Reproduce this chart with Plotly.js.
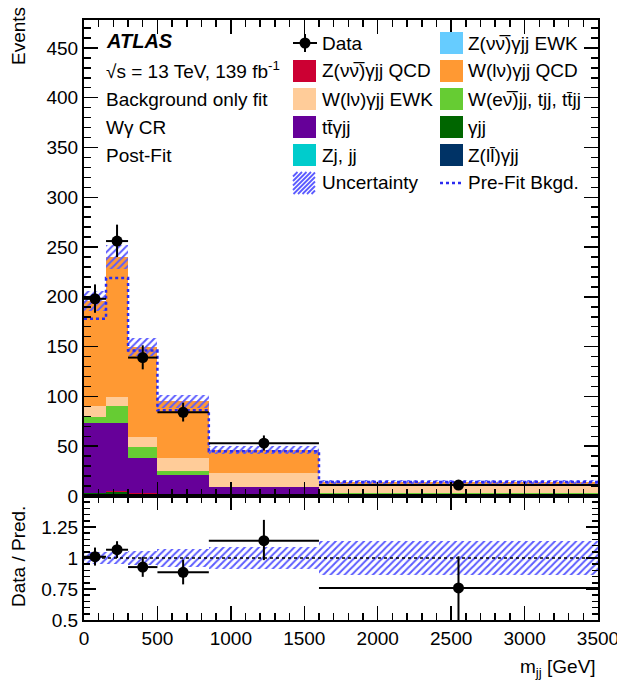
<!DOCTYPE html>
<html><head><meta charset="utf-8">
<script src="https://cdn.plot.ly/plotly-3.0.1.min.js"></script>
<style>body{margin:0;background:#fff;} #plot{width:617px;height:685px;}</style>
</head><body><div id="plot"></div>
<script>
// ---- data ----
const binEdges   = [0, 150, 300, 500, 850, 1600, 3500];
const binCenters = [75, 225, 400, 675, 1225, 2550];
const binWidths  = [150, 150, 200, 350, 750, 1900];

const zllYjj   = [1.0, 1.0, 0.8, 0.7, 0.6, 0.5];
const zjJj     = [1.5, 1.5, 1.2, 1.0, 1.0, 1.0];
const yJj      = [0.5, 2.0, 0.5, 0.3, 0.2, 0.1];
const znnQCD   = [0.3, 0.3, 0.3, 0.3, 0.2, 0.2];
const znnEWK   = [0.2, 0.2, 0.2, 0.2, 0.2, 0.2];
const ttYjj    = [69.5, 68, 35, 18.5, 6.8, 0.5];
const wenJj    = [6, 17, 11, 4, 0.5, 0.1];
const wlnEWK   = [11, 9, 10, 13, 13.5, 7.4];
const wlnQCD   = [106, 141, 91, 57, 23.5, 4.5];

const preFit   = [178, 219, 146, 86, 45, 14];
const relUnc   = [0.05, 0.05, 0.06, 0.07, 0.09, 0.14];

const dataVals    = [198, 256, 139, 84, 53, 11];
const dataErrUp   = [14.5, 16.5, 12.3, 9.7, 7.8, 3.7];
const dataErrDown = [14, 16, 11.8, 9.2, 7.3, 4.2];

const xTicks = [0, 500, 1000, 1500, 2000, 2500, 3000, 3500];

// ---- derived ----
const comps = [
  {y: zllYjj, c: '#003366', n: 'Z(ll̄)γjj'},
  {y: zjJj,   c: '#00cccc', n: 'Zj, jj'},
  {y: yJj,    c: '#006600', n: 'γjj'},
  {y: znnQCD, c: '#cc0033', n: 'Z(νν̅)γjj QCD'},
  {y: znnEWK, c: '#66ccff', n: 'Z(νν̅)γjj EWK'},
  {y: ttYjj,  c: '#660099', n: 'tt̄γjj'},
  {y: wenJj,  c: '#66cc33', n: 'W(eν̅)jj, tjj, tt̄jj'},
  {y: wlnEWK, c: '#ffcc99', n: 'W(lν)γjj EWK'},
  {y: wlnQCD, c: '#ff9933', n: 'W(lν)γjj QCD'}
];
const total = binCenters.map((_, i) => comps.reduce((s, c) => s + c.y[i], 0));
const halfW = binWidths.map(w => w / 2);
const ratio = dataVals.map((d, i) => d / total[i]);
const ratioUp = dataErrUp.map((e, i) => e / total[i]);
const ratioDown = dataErrDown.map((e, i) => e / total[i]);

const hatchCol = '#5c5cff';
const hatchPattern = {shape: '/', fgcolor: hatchCol, bgcolor: 'rgba(0,0,0,0)', size: 5, solidity: 0.4};
const traces = [];
comps.forEach(c => traces.push({
  type: 'bar', x: binCenters, y: c.y, width: binWidths,
  marker: {color: c.c, line: {width: 0}}, name: c.n, showlegend: false,
  xaxis: 'x', yaxis: 'y', hoverinfo: 'skip'
}));
// uncertainty band (upper)
traces.push({
  type: 'bar', x: binCenters, width: binWidths,
  base: total.map((t, i) => t * (1 - relUnc[i])),
  y: total.map((t, i) => 2 * t * relUnc[i]),
  marker: {color: 'rgba(0,0,0,0)', line: {width: 0}, pattern: hatchPattern},
  showlegend: false, xaxis: 'x', yaxis: 'y', hoverinfo: 'skip'
});
// pre-fit line
traces.push({
  type: 'scatter', mode: 'lines', x: binEdges, y: preFit.concat([preFit[preFit.length - 1]]),
  line: {shape: 'hv', dash: 'dot', color: '#2b2bf0', width: 2.5},
  showlegend: false, xaxis: 'x', yaxis: 'y', hoverinfo: 'skip'
});
// data
traces.push({
  type: 'scatter', mode: 'markers', x: binCenters, y: dataVals,
  marker: {color: 'black', size: 11},
  error_y: {type: 'data', symmetric: false, array: dataErrUp, arrayminus: dataErrDown, color: 'black', thickness: 2, width: 0},
  error_x: {type: 'data', array: halfW, color: 'black', thickness: 2, width: 0},
  showlegend: false, xaxis: 'x', yaxis: 'y'
});
// ratio band
traces.push({
  type: 'bar', x: binCenters, width: binWidths,
  base: relUnc.map(r => 1 - r), y: relUnc.map(r => 2 * r),
  marker: {color: 'rgba(0,0,0,0)', line: {width: 0}, pattern: hatchPattern},
  showlegend: false, xaxis: 'x2', yaxis: 'y2', hoverinfo: 'skip'
});
traces.push({
  type: 'scatter', mode: 'lines', x: [binEdges[0], binEdges[binEdges.length - 1]], y: [1, 1],
  line: {dash: 'dot', color: 'black', width: 1.5}, showlegend: false, xaxis: 'x2', yaxis: 'y2', hoverinfo: 'skip'
});
traces.push({
  type: 'scatter', mode: 'markers', x: binCenters, y: ratio,
  marker: {color: 'black', size: 11},
  error_y: {type: 'data', symmetric: false, array: ratioUp, arrayminus: ratioDown, color: 'black', thickness: 2, width: 0},
  error_x: {type: 'data', array: halfW, color: 'black', thickness: 2, width: 0},
  showlegend: false, xaxis: 'x2', yaxis: 'y2'
});

// ---- layout helpers (pixel -> paper) ----
const L = 84, T = 20, W = 514, H = 600;
const px = x => (x - L) / W;
const py = y => (T + H - y) / H;
const FONT = 'Liberation Sans, Arial, Helvetica, sans-serif';
const fs = 19;

const annotations = [];
const shapes = [];
function txt(x, y, t, opt) {
  annotations.push(Object.assign({xref: 'paper', yref: 'paper', x: px(x), y: py(y), text: t,
    showarrow: false, xanchor: 'left', yanchor: 'middle', font: {family: FONT, size: fs, color: 'black'}}, opt || {}));
}
txt(104, 41, '<b><i>ATLAS</i></b>', {font: {family: FONT, size: 20, color: 'black'}});
txt(104, 70, '√s = 13 TeV, 139 fb<sup>-1</sup>');
txt(104, 99, 'Background only fit');
txt(104, 127, 'Wγ CR');
txt(104, 155, 'Post-Fit');

const rows = [43, 71, 99, 127, 155, 183];
const c1 = 293, c2 = 440, sw = 23;
function swatch(x, y, color) {
  shapes.push({type: 'rect', xref: 'paper', yref: 'paper', x0: px(x), x1: px(x + sw), y0: py(y - 11), y1: py(y + 11),
    fillcolor: color, line: {width: 0}});
}
const legCol1 = [null, comps[3], comps[7], comps[5], comps[1]];
const legCol2 = [comps[4], comps[8], comps[6], comps[2], comps[0]];
legCol1.forEach((c, i) => { if (c) { swatch(c1, rows[i], c.c); txt(c1 + 27, rows[i], c.n); } });
legCol2.forEach((c, i) => { swatch(c2, rows[i], c.c); txt(c2 + 26, rows[i], c.n); });
// data legend
shapes.push({type: 'line', xref: 'paper', yref: 'paper', x0: px(c1), x1: px(c1 + 24), y0: py(rows[0]), y1: py(rows[0]), line: {color: 'black', width: 2}});
shapes.push({type: 'line', xref: 'paper', yref: 'paper', x0: px(c1 + 12), x1: px(c1 + 12), y0: py(rows[0] - 9), y1: py(rows[0] + 9), line: {color: 'black', width: 2}});
shapes.push({type: 'circle', xref: 'paper', yref: 'paper', x0: px(c1 + 6.5), x1: px(c1 + 17.5), y0: py(rows[0] - 5.5), y1: py(rows[0] + 5.5), fillcolor: 'black', line: {width: 0}});
txt(c1 + 27, rows[0], 'Data');
// uncertainty legend (hatched square)
{
  const x0 = c1, yb = rows[5] + 11, s = 22;
  let p = '';
  for (let k = -s; k <= s; k += 4.5) {
    const t0 = Math.max(0, -k), t1 = Math.min(s, s - k);
    if (t1 <= t0) continue;
    p += `M${px(x0 + k + t0)},${py(yb - t0)}L${px(x0 + k + t1)},${py(yb - t1)}`;
  }
  shapes.push({type: 'path', xref: 'paper', yref: 'paper', path: p, line: {color: hatchCol, width: 1.8}});
  txt(c1 + 27, rows[5], 'Uncertainty');
}
shapes.push({type: 'line', xref: 'paper', yref: 'paper', x0: px(c2), x1: px(c2 + 23), y0: py(rows[5]), y1: py(rows[5]),
  line: {color: '#2b2bf0', width: 2.5, dash: 'dot'}});
txt(c2 + 26, rows[5], 'Pre-Fit Bkgd.');

// axis titles
annotations.push({xref: 'paper', yref: 'paper', x: px(18), y: py(5), text: 'Events', textangle: -90,
  showarrow: false, xanchor: 'center', yanchor: 'top', font: {family: FONT, size: fs, color: 'black'}});
annotations.push({xref: 'paper', yref: 'paper', x: px(18), y: py(557), text: 'Data / Pred.', textangle: -90,
  showarrow: false, xanchor: 'center', yanchor: 'middle', font: {family: FONT, size: fs, color: 'black'}});
annotations.push({xref: 'paper', yref: 'paper', x: 1, y: py(668), text: 'm<sub>jj</sub> [GeV]',
  showarrow: false, xanchor: 'right', yanchor: 'middle', font: {family: FONT, size: fs, color: 'black'}});

const split = py(496);
const axCommon = {showline: true, linewidth: 2, linecolor: 'black', mirror: 'allticks', ticks: 'inside',
  tickwidth: 1.5, tickcolor: 'black', showgrid: false, zeroline: false, ticklabeloverflow: 'allow',
  tickfont: {family: FONT, size: fs, color: 'black'}};

const layout = {
  width: 617, height: 685,
  margin: {l: L, r: 617 - L - W, t: T, b: 685 - T - H},
  paper_bgcolor: 'white', plot_bgcolor: 'white',
  barmode: 'stack', bargap: 0,
  showlegend: false,
  font: {family: FONT, size: fs, color: 'black'},
  xaxis: Object.assign({}, axCommon, {domain: [0, 1], range: [0, 3500], anchor: 'y', showticklabels: false,
    tickmode: 'linear', tick0: 0, dtick: 500, ticklen: 14,
    minor: {ticks: 'inside', ticklen: 7, tickmode: 'linear', tick0: 0, dtick: 100, tickwidth: 1.5, tickcolor: 'black', showgrid: false}}),
  yaxis: Object.assign({}, axCommon, {domain: [split, 1], range: [0, 478], anchor: 'x',
    tickmode: 'linear', tick0: 0, dtick: 50, ticklen: 14,
    minor: {ticks: 'inside', ticklen: 7, tickmode: 'linear', tick0: 0, dtick: 10, tickwidth: 1.5, tickcolor: 'black', showgrid: false}}),
  xaxis2: Object.assign({}, axCommon, {domain: [0, 1], range: [0, 3500], anchor: 'y2',
    tickmode: 'array', tickvals: xTicks, ticktext: xTicks.map(String), ticklen: 14,
    minor: {ticks: 'inside', ticklen: 7, tickmode: 'linear', tick0: 0, dtick: 100, tickwidth: 1.5, tickcolor: 'black', showgrid: false}}),
  yaxis2: Object.assign({}, axCommon, {domain: [0, split], range: [0.5, 1.5], anchor: 'x2',
    tickmode: 'array', tickvals: [0.5, 0.75, 1, 1.25], ticktext: ['0.5', '0.75', '1', '1.25'], ticklen: 12,
    minor: {ticks: 'inside', ticklen: 6, tickmode: 'linear', tick0: 0.5, dtick: 0.05, tickwidth: 1.5, tickcolor: 'black', showgrid: false}}),
  annotations: annotations,
  shapes: shapes
};

Plotly.newPlot('plot', traces, layout, {staticPlot: true, displayModeBar: false});
</script>
</body></html>
